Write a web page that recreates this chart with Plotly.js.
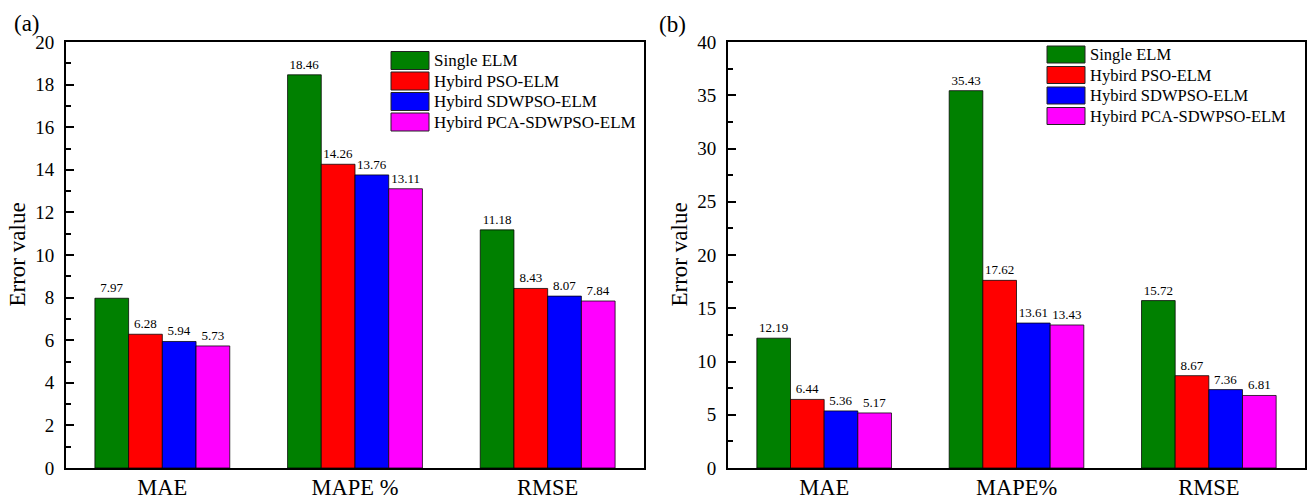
<!DOCTYPE html>
<html><head><meta charset="utf-8">
<script src="https://cdn.plot.ly/plotly-3.0.1.min.js"></script>
<style>html,body{margin:0;padding:0;background:#fff}#chart{width:1308px;height:499px}</style>
</head><body><div id="chart"></div>
<script>
const seriesNames = ['Single ELM','Hybird PSO-ELM','Hybird SDWPSO-ELM','Hybird PCA-SDWPSO-ELM'];
const seriesColors = ['#008000','#FF0000','#0000FF','#FF00FF'];
const categoriesA = ['MAE','MAPE %','RMSE'];
const categoriesB = ['MAE','MAPE%','RMSE'];
const singleA = [7.97,18.46,11.18];
const psoA = [6.28,14.26,8.43];
const sdwA = [5.94,13.76,8.07];
const pcaA = [5.73,13.11,7.84];
const singleB = [12.19,35.43,15.72];
const psoB = [6.44,17.62,8.67];
const sdwB = [5.36,13.61,7.36];
const pcaB = [5.17,13.43,6.81];

const W = 1308, H = 499;
const px = v => v / W;
const py = v => 1 - v / H;
const FONT = '"Liberation Serif", "Times New Roman", serif';

const seriesA = [singleA, psoA, sdwA, pcaA];
const seriesB = [singleB, psoB, sdwB, pcaB];

const traces = [];
function addTraces(series, cats, xa, ya) {
  series.forEach((vals, i) => {
    traces.push({
      type: 'bar', x: cats, y: vals, xaxis: xa, yaxis: ya,
      name: seriesNames[i], showlegend: false,
      marker: {color: seriesColors[i], line: {color: 'rgba(0,0,0,0.75)', width: 1}},
      texttemplate: '%{y:.2f}', textposition: 'outside', constraintext: 'none',
      cliponaxis: false,
      textfont: {family: FONT, size: 13, color: '#000'},
      hoverinfo: 'x+y'
    });
  });
}
addTraces(seriesA, categoriesA, 'x', 'y');
addTraces(seriesB, categoriesB, 'x2', 'y2');

const yDom = [py(468), py(42)];
function xAxis(domain) {
  return {
    domain: domain, type: 'category', range: [-0.5, 2.5],
    showline: true, linecolor: '#000', linewidth: 2, mirror: true,
    ticks: '', showgrid: false, zeroline: false, automargin: false,
    tickfont: {family: FONT, size: 22.5, color: '#000'}, ticklabelstandoff: -2
  };
}
function yAxis(domain, anchor, max, dt, mdt) {
  return {
    domain: domain, anchor: anchor, range: [0, max], dtick: dt, tick0: 0,
    showline: true, linecolor: '#000', linewidth: 2, mirror: true,
    ticks: 'inside', ticklen: 8, tickwidth: 2, tickcolor: '#000',
    minor: {dtick: mdt, ticks: 'inside', ticklen: 5, tickwidth: 2, tickcolor: '#000', showgrid: false},
    showgrid: false, zeroline: false, automargin: false,
    tickfont: {family: FONT, size: 19, color: '#000'}, ticklabelstandoff: 6
  };
}

const shapes = [];
const annotations = [];
function addLegend(x0, x1, tx, rows, hgt, fs) {
  seriesNames.forEach((n, i) => {
    shapes.push({type: 'rect', xref: 'paper', yref: 'paper',
      x0: px(x0), x1: px(x1), y0: py(rows[i] + hgt / 2), y1: py(rows[i] - hgt / 2),
      fillcolor: seriesColors[i], line: {color: '#222', width: 1}});
    annotations.push({xref: 'paper', yref: 'paper', x: px(tx), y: py(rows[i]),
      xanchor: 'left', yanchor: 'middle', showarrow: false, text: n,
      font: {family: FONT, size: fs, color: '#000'}});
  });
}
addLegend(391, 429, 432, [60.5, 81, 101.5, 122], 18, 17);
addLegend(1047, 1085, 1088, [54.5, 75, 95.5, 116], 17, 16.5);

annotations.push({xref: 'paper', yref: 'paper', x: px(17.5), y: py(255), textangle: -90,
  xanchor: 'center', yanchor: 'middle', showarrow: false, text: 'Error value',
  font: {family: FONT, size: 23, color: '#000'}});
annotations.push({xref: 'paper', yref: 'paper', x: px(679.5), y: py(255), textangle: -90,
  xanchor: 'center', yanchor: 'middle', showarrow: false, text: 'Error value',
  font: {family: FONT, size: 23, color: '#000'}});
annotations.push({xref: 'paper', yref: 'paper', x: px(27), y: py(23),
  xanchor: 'center', yanchor: 'middle', showarrow: false, text: '(a)',
  font: {family: FONT, size: 23, color: '#000'}});
annotations.push({xref: 'paper', yref: 'paper', x: px(672), y: py(24),
  xanchor: 'center', yanchor: 'middle', showarrow: false, text: '(b)',
  font: {family: FONT, size: 23, color: '#000'}});

const layout = {
  width: W, height: H, margin: {l: 0, r: 0, t: 0, b: 0},
  paper_bgcolor: '#fff', plot_bgcolor: '#fff',
  barmode: 'group', bargap: 0.3, bargroupgap: 0,
  showlegend: false,
  xaxis: xAxis([px(66), px(644)]),
  yaxis: yAxis(yDom, 'x', 20, 2, 1),
  xaxis2: Object.assign(xAxis([px(728), px(1305)]), {anchor: 'y2'}),
  yaxis2: yAxis(yDom, 'x2', 40, 5, 2.5),
  shapes: shapes, annotations: annotations,
  font: {family: FONT, color: '#000'}
};
layout.xaxis.anchor = 'y';
Plotly.newPlot('chart', traces, layout, {staticPlot: true, displayModeBar: false});
</script></body></html>
